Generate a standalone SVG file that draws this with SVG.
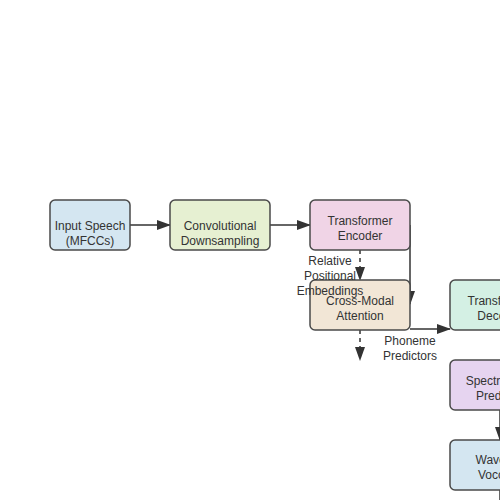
<svg xmlns="http://www.w3.org/2000/svg" width="500" height="500" viewBox="0 0 500 500">
<style>
.node rect{stroke:#4a4a4a;stroke-width:1.5}
.node text,.lbl{font-family:"Liberation Sans",Arial,sans-serif;font-size:12px;fill:#333;text-anchor:middle}
.edge{stroke:#333;stroke-width:1.5;fill:none}
.dash{stroke-dasharray:4,4}
</style>
<defs>
<marker id="ah" markerWidth="14" markerHeight="10" refX="13" refY="5" orient="auto" markerUnits="userSpaceOnUse" viewBox="0 0 14 10">
<path d="M0,0 L14,5 L0,10 z" fill="#333"/>
</marker>
</defs>
<rect width="500" height="500" fill="#fff"/>
<g id="edges">
<line class="edge" x1="130" y1="225" x2="170" y2="225" marker-end="url(#ah)"/>
<line class="edge" x1="270" y1="225" x2="310" y2="225" marker-end="url(#ah)"/>
<line class="edge dash" x1="360" y1="250" x2="360" y2="280" marker-end="url(#ah)"/>
<line class="edge" x1="410" y1="225" x2="410" y2="304" marker-end="url(#ah)"/>
<line class="edge" x1="410" y1="329" x2="450" y2="329" marker-end="url(#ah)"/>
<line class="edge dash" x1="360" y1="330" x2="360" y2="360" marker-end="url(#ah)"/>
<line class="edge" x1="500" y1="410" x2="500" y2="440" marker-end="url(#ah)"/>
<line class="edge" x1="500" y1="490" x2="500" y2="500"/>
</g>
<g id="n1" class="node"><rect x="50" y="200" width="80" height="50" rx="5" fill="#d4e6f1"/><text x="90" y="230">Input Speech</text><text x="90" y="245">(MFCCs)</text></g>
<g id="n2" class="node"><rect x="170" y="200" width="100" height="50" rx="5" fill="#e6f0d2"/><text x="220" y="230">Convolutional</text><text x="220" y="245">Downsampling</text></g>
<g id="n3" class="node"><rect x="310" y="200" width="100" height="50" rx="5" fill="#f0d4e6"/><text x="360" y="225">Transformer</text><text x="360" y="240">Encoder</text></g>
<g id="n4" class="node"><rect x="310" y="280" width="100" height="50" rx="5" fill="#f2e6d6"/><text x="360" y="305">Cross-Modal</text><text x="360" y="320">Attention</text></g>
<g id="n5" class="node"><rect x="450" y="280" width="100" height="50" rx="5" fill="#d4f0e4"/><text x="500" y="305">Transformer</text><text x="500" y="320">Decoder</text></g>
<g id="n6" class="node"><rect x="450" y="360" width="100" height="50" rx="5" fill="#e6d4f0"/><text x="500" y="385">Spectrogram</text><text x="500" y="400">Predictor</text></g>
<g id="n7" class="node"><rect x="450" y="440" width="100" height="50" rx="5" fill="#d4e6f1"/><text x="500" y="464">WaveNet</text><text x="500" y="479">Vocoder</text></g>
<g id="labels">
<text class="lbl" x="330" y="265">Relative</text>
<text class="lbl" x="330" y="280">Positional</text>
<text class="lbl" x="330" y="295">Embeddings</text>
<text class="lbl" x="410" y="345">Phoneme</text>
<text class="lbl" x="410" y="360">Predictors</text>
</g>
</svg>
